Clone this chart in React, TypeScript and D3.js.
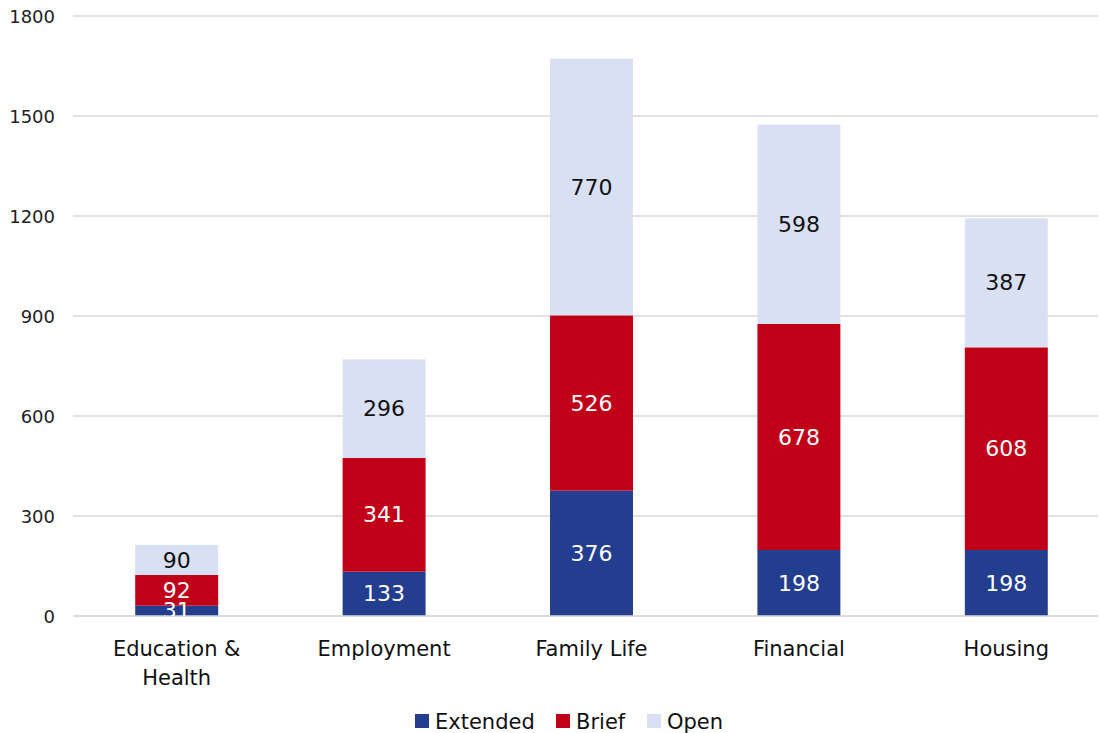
import React from "react";
import * as d3 from "d3";

const categories: string[][] = [
  ["Education &", "Health"],
  ["Employment"],
  ["Family Life"],
  ["Financial"],
  ["Housing"],
];
const seriesNames = ["Extended", "Brief", "Open"];
const extended = [31, 133, 376, 198, 198];
const brief = [92, 341, 526, 678, 608];
const open = [90, 296, 770, 598, 387];
const yTicks = [0, 300, 600, 900, 1200, 1500, 1800];

const colors = ["#233D8F", "#C00019", "#D9E0F4"];
const labelColors = ["#FFFFFF", "#FFFFFF", "#111111"];

const W = 1099;
const H = 733;
const FONT = "'DejaVu Sans', sans-serif";

export default function App() {
  const series = [extended, brief, open];
  const rows = categories.map((c, i) => ({
    key: String(i),
    Extended: extended[i],
    Brief: brief[i],
    Open: open[i],
  }));
  const stacked = d3.stack<any>().keys(seriesNames)(rows);

  const x = d3
    .scaleBand<string>()
    .domain(rows.map((r) => r.key))
    .range([73, 1110])
    .paddingInner(0.6)
    .paddingOuter(0.3);
  const y = d3.scaleLinear().domain([0, 1800]).range([616, 16]);

  const legendX = [415, 556, 647];

  return (
    <svg
      width={W}
      height={H}
      style={{ position: "absolute", left: 0, top: 0, background: "#fff" }}
      fontFamily={FONT}
    >
      <defs>
        <clipPath id="plotClip">
          <rect x={0} y={0} width={W} height={y(0)} />
        </clipPath>
      </defs>
      {yTicks.map((t) => (
        <g key={t}>
          <line
            x1={73}
            x2={1098}
            y1={y(t)}
            y2={y(t)}
            stroke="#D9D9D9"
            strokeWidth={1.5}
          />
          <text
            x={55}
            y={y(t)}
            textAnchor="end"
            dominantBaseline="central"
            fontSize={18}
            fill="#222"
          >
            {t}
          </text>
        </g>
      ))}
      {stacked.map((layer, si) => (
        <g key={layer.key}>
          {layer.map((d, i) => (
            <rect
              key={i}
              x={x(String(i))}
              width={x.bandwidth()}
              y={y(d[1])}
              height={y(d[0]) - y(d[1])}
              fill={colors[si]}
            />
          ))}
        </g>
      ))}
      <line x1={73} x2={1098} y1={y(0)} y2={y(0)} stroke="#D9D9D9" strokeWidth={1.5} />
      <g clipPath="url(#plotClip)">
        {stacked.map((layer, si) => (
          <g key={layer.key}>
            {layer.map((d, i) => (
              <text
                key={i}
                x={(x(String(i)) as number) + x.bandwidth() / 2}
                y={(y(d[0]) + y(d[1])) / 2}
                textAnchor="middle"
                dominantBaseline="central"
                fontSize={22}
                fill={labelColors[si]}
              >
                {series[si][i]}
              </text>
            ))}
          </g>
        ))}
      </g>
      {categories.map((lines, i) => (
        <text
          key={i}
          x={(x(String(i)) as number) + x.bandwidth() / 2}
          y={656}
          textAnchor="middle"
          fontSize={21}
          fill="#111"
        >
          {lines.map((l, j) => (
            <tspan key={j} x={(x(String(i)) as number) + x.bandwidth() / 2} dy={j === 0 ? 0 : 28.5}>
              {l}
            </tspan>
          ))}
        </text>
      ))}
      {seriesNames.map((s, i) => (
        <g key={s}>
          <rect x={legendX[i]} y={714} width={14} height={14} fill={colors[i]} />
          <text x={legendX[i] + 20} y={729} fontSize={21} fill="#111">
            {s}
          </text>
        </g>
      ))}
    </svg>
  );
}
